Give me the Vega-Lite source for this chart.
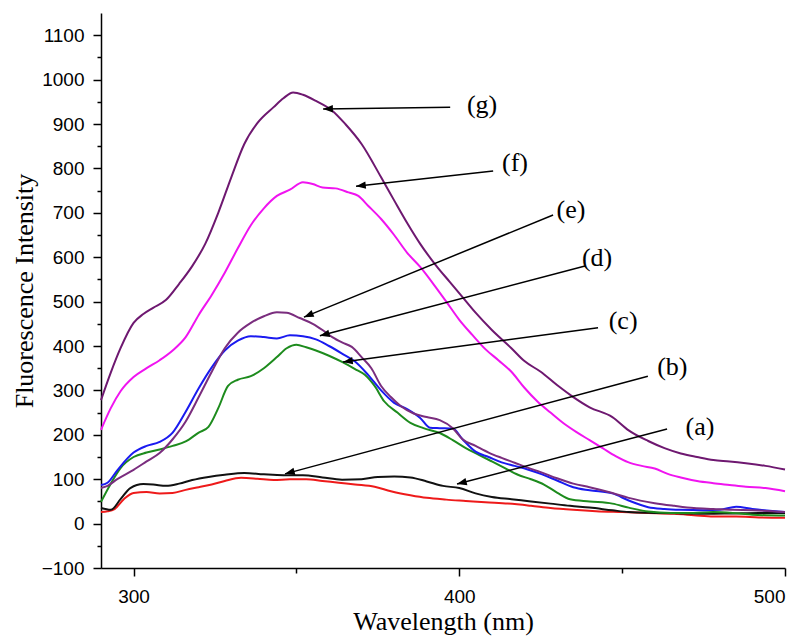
{
  "$schema": "https://vega.github.io/schema/vega-lite/v6.json",
  "width": 684,
  "height": 555,
  "autosize": "none",
  "padding": {"left": 101, "top": 13, "right": 21, "bottom": 68},
  "background": "white",
  "config": {
    "view": {"stroke": null},
    "axis": {
      "domainColor": "black", "domainWidth": 1.5,
      "tickColor": "black", "tickWidth": 1.5,
      "labelFont": "Liberation Sans", "labelFontSize": 19, "labelColor": "black",
      "titleFont": "Liberation Serif", "titleFontSize": 26, "titleFontWeight": "normal", "titleColor": "black",
      "grid": false
    }
  },
  "resolve": {"axis": {"x": "independent", "y": "independent"}},
  "datasets": {
    "spectra": [
      {"series":"a","wl":290,"v":26},{"series":"a","wl":292,"v":28},{"series":"a","wl":294,"v":32},{"series":"a","wl":297,"v":55},{"series":"a","wl":300,"v":69},{"series":"a","wl":304,"v":71},{"series":"a","wl":308,"v":68},{"series":"a","wl":312,"v":69},{"series":"a","wl":316,"v":76},{"series":"a","wl":320,"v":82},{"series":"a","wl":324,"v":88},{"series":"a","wl":328,"v":96},{"series":"a","wl":333,"v":103},{"series":"a","wl":338,"v":101},{"series":"a","wl":343,"v":98},{"series":"a","wl":348,"v":100},{"series":"a","wl":353,"v":100},{"series":"a","wl":358,"v":96},{"series":"a","wl":363,"v":92},{"series":"a","wl":368,"v":88},{"series":"a","wl":374,"v":83},{"series":"a","wl":379,"v":73},{"series":"a","wl":385,"v":64},{"series":"a","wl":390,"v":58},{"series":"a","wl":396,"v":54},{"series":"a","wl":402,"v":51},{"series":"a","wl":408,"v":48},{"series":"a","wl":415,"v":45},{"series":"a","wl":422,"v":40},{"series":"a","wl":428,"v":35},{"series":"a","wl":435,"v":31},{"series":"a","wl":442,"v":28},{"series":"a","wl":450,"v":26},{"series":"a","wl":458,"v":24},{"series":"a","wl":466,"v":22},{"series":"a","wl":472,"v":19},{"series":"a","wl":478,"v":16},{"series":"a","wl":485,"v":16},{"series":"a","wl":492,"v":14},{"series":"a","wl":500,"v":13},

      {"series":"b","wl":290,"v":35},{"series":"b","wl":293,"v":31},{"series":"b","wl":296,"v":55},{"series":"b","wl":299,"v":80},{"series":"b","wl":303,"v":89},{"series":"b","wl":306,"v":88},{"series":"b","wl":310,"v":85},{"series":"b","wl":314,"v":90},{"series":"b","wl":318,"v":98},{"series":"b","wl":323,"v":105},{"series":"b","wl":328,"v":110},{"series":"b","wl":334,"v":114},{"series":"b","wl":340,"v":111},{"series":"b","wl":346,"v":109},{"series":"b","wl":352,"v":109},{"series":"b","wl":358,"v":104},{"series":"b","wl":364,"v":99},{"series":"b","wl":370,"v":100},{"series":"b","wl":375,"v":105},{"series":"b","wl":380,"v":106},{"series":"b","wl":385,"v":104},{"series":"b","wl":390,"v":95},{"series":"b","wl":395,"v":85},{"series":"b","wl":400,"v":80},{"series":"b","wl":405,"v":68},{"series":"b","wl":410,"v":60},{"series":"b","wl":416,"v":55},{"series":"b","wl":422,"v":50},{"series":"b","wl":428,"v":45},{"series":"b","wl":434,"v":40},{"series":"b","wl":440,"v":36},{"series":"b","wl":447,"v":30},{"series":"b","wl":452,"v":26},{"series":"b","wl":460,"v":24},{"series":"b","wl":468,"v":23},{"series":"b","wl":476,"v":22},{"series":"b","wl":484,"v":23},{"series":"b","wl":492,"v":24},{"series":"b","wl":500,"v":24},

      {"series":"c","wl":290,"v":49},{"series":"c","wl":293,"v":90},{"series":"c","wl":296,"v":125},{"series":"c","wl":300,"v":150},{"series":"c","wl":304,"v":160},{"series":"c","wl":308,"v":167},{"series":"c","wl":312,"v":175},{"series":"c","wl":316,"v":185},{"series":"c","wl":320,"v":205},{"series":"c","wl":323,"v":218},{"series":"c","wl":326,"v":260},{"series":"c","wl":329,"v":310},{"series":"c","wl":332,"v":324},{"series":"c","wl":336,"v":332},{"series":"c","wl":340,"v":350},{"series":"c","wl":344,"v":375},{"series":"c","wl":347,"v":395},{"series":"c","wl":350,"v":403},{"series":"c","wl":353,"v":397},{"series":"c","wl":356,"v":390},{"series":"c","wl":360,"v":378},{"series":"c","wl":364,"v":364},{"series":"c","wl":368,"v":348},{"series":"c","wl":371,"v":335},{"series":"c","wl":374,"v":310},{"series":"c","wl":377,"v":275},{"series":"c","wl":381,"v":250},{"series":"c","wl":385,"v":227},{"series":"c","wl":389,"v":215},{"series":"c","wl":394,"v":204},{"series":"c","wl":398,"v":188},{"series":"c","wl":402,"v":170},{"series":"c","wl":406,"v":155},{"series":"c","wl":410,"v":140},{"series":"c","wl":414,"v":125},{"series":"c","wl":418,"v":110},{"series":"c","wl":422,"v":100},{"series":"c","wl":426,"v":88},{"series":"c","wl":430,"v":70},{"series":"c","wl":434,"v":55},{"series":"c","wl":440,"v":50},{"series":"c","wl":447,"v":45},{"series":"c","wl":452,"v":36},{"series":"c","wl":458,"v":27},{"series":"c","wl":465,"v":24},{"series":"c","wl":472,"v":24},{"series":"c","wl":478,"v":26},{"series":"c","wl":484,"v":24},{"series":"c","wl":490,"v":20},{"series":"c","wl":500,"v":18},

      {"series":"d","wl":290,"v":87},{"series":"d","wl":292,"v":92},{"series":"d","wl":295,"v":120},{"series":"d","wl":300,"v":160},{"series":"d","wl":304,"v":175},{"series":"d","wl":308,"v":184},{"series":"d","wl":312,"v":205},{"series":"d","wl":316,"v":252},{"series":"d","wl":320,"v":305},{"series":"d","wl":324,"v":352},{"series":"d","wl":328,"v":390},{"series":"d","wl":332,"v":412},{"series":"d","wl":336,"v":422},{"series":"d","wl":340,"v":420},{"series":"d","wl":344,"v":417},{"series":"d","wl":348,"v":424},{"series":"d","wl":352,"v":422},{"series":"d","wl":356,"v":415},{"series":"d","wl":360,"v":400},{"series":"d","wl":364,"v":383},{"series":"d","wl":368,"v":365},{"series":"d","wl":372,"v":335},{"series":"d","wl":376,"v":300},{"series":"d","wl":380,"v":272},{"series":"d","wl":384,"v":258},{"series":"d","wl":388,"v":238},{"series":"d","wl":391,"v":216},{"series":"d","wl":394,"v":215},{"series":"d","wl":398,"v":214},{"series":"d","wl":401,"v":190},{"series":"d","wl":405,"v":162},{"series":"d","wl":409,"v":150},{"series":"d","wl":413,"v":138},{"series":"d","wl":417,"v":130},{"series":"d","wl":421,"v":122},{"series":"d","wl":425,"v":112},{"series":"d","wl":430,"v":97},{"series":"d","wl":435,"v":82},{"series":"d","wl":440,"v":75},{"series":"d","wl":447,"v":68},{"series":"d","wl":452,"v":52},{"series":"d","wl":458,"v":37},{"series":"d","wl":463,"v":33},{"series":"d","wl":468,"v":31},{"series":"d","wl":475,"v":30},{"series":"d","wl":480,"v":31},{"series":"d","wl":485,"v":38},{"series":"d","wl":490,"v":33},{"series":"d","wl":500,"v":26},

      {"series":"e","wl":290,"v":80},{"series":"e","wl":292,"v":85},{"series":"e","wl":295,"v":100},{"series":"e","wl":300,"v":121},{"series":"e","wl":304,"v":140},{"series":"e","wl":308,"v":159},{"series":"e","wl":312,"v":190},{"series":"e","wl":316,"v":230},{"series":"e","wl":320,"v":285},{"series":"e","wl":324,"v":342},{"series":"e","wl":328,"v":395},{"series":"e","wl":332,"v":430},{"series":"e","wl":336,"v":452},{"series":"e","wl":340,"v":467},{"series":"e","wl":344,"v":476},{"series":"e","wl":347,"v":475},{"series":"e","wl":351,"v":463},{"series":"e","wl":355,"v":450},{"series":"e","wl":358,"v":436},{"series":"e","wl":361,"v":420},{"series":"e","wl":364,"v":408},{"series":"e","wl":367,"v":398},{"series":"e","wl":370,"v":375},{"series":"e","wl":373,"v":350},{"series":"e","wl":376,"v":310},{"series":"e","wl":379,"v":285},{"series":"e","wl":382,"v":265},{"series":"e","wl":386,"v":248},{"series":"e","wl":390,"v":240},{"series":"e","wl":394,"v":233},{"series":"e","wl":398,"v":215},{"series":"e","wl":401,"v":190},{"series":"e","wl":405,"v":175},{"series":"e","wl":409,"v":160},{"series":"e","wl":413,"v":148},{"series":"e","wl":417,"v":137},{"series":"e","wl":421,"v":126},{"series":"e","wl":425,"v":116},{"series":"e","wl":430,"v":102},{"series":"e","wl":435,"v":90},{"series":"e","wl":440,"v":82},{"series":"e","wl":447,"v":69},{"series":"e","wl":452,"v":58},{"series":"e","wl":460,"v":46},{"series":"e","wl":466,"v":40},{"series":"e","wl":472,"v":35},{"series":"e","wl":478,"v":33},{"series":"e","wl":484,"v":31},{"series":"e","wl":490,"v":30},{"series":"e","wl":500,"v":26},

      {"series":"f","wl":290,"v":211},{"series":"f","wl":293,"v":260},{"series":"f","wl":296,"v":298},{"series":"f","wl":300,"v":330},{"series":"f","wl":304,"v":350},{"series":"f","wl":308,"v":368},{"series":"f","wl":312,"v":390},{"series":"f","wl":316,"v":420},{"series":"f","wl":320,"v":470},{"series":"f","wl":324,"v":515},{"series":"f","wl":328,"v":565},{"series":"f","wl":332,"v":620},{"series":"f","wl":336,"v":672},{"series":"f","wl":340,"v":710},{"series":"f","wl":344,"v":738},{"series":"f","wl":348,"v":752},{"series":"f","wl":352,"v":769},{"series":"f","wl":355,"v":765},{"series":"f","wl":358,"v":757},{"series":"f","wl":362,"v":755},{"series":"f","wl":366,"v":746},{"series":"f","wl":369,"v":738},{"series":"f","wl":372,"v":716},{"series":"f","wl":376,"v":686},{"series":"f","wl":380,"v":650},{"series":"f","wl":384,"v":610},{"series":"f","wl":388,"v":578},{"series":"f","wl":392,"v":540},{"series":"f","wl":396,"v":500},{"series":"f","wl":400,"v":459},{"series":"f","wl":404,"v":425},{"series":"f","wl":408,"v":393},{"series":"f","wl":412,"v":368},{"series":"f","wl":416,"v":342},{"series":"f","wl":420,"v":306},{"series":"f","wl":424,"v":275},{"series":"f","wl":428,"v":250},{"series":"f","wl":432,"v":226},{"series":"f","wl":436,"v":206},{"series":"f","wl":440,"v":188},{"series":"f","wl":444,"v":170},{"series":"f","wl":448,"v":152},{"series":"f","wl":452,"v":138},{"series":"f","wl":456,"v":130},{"series":"f","wl":460,"v":124},{"series":"f","wl":464,"v":112},{"series":"f","wl":468,"v":104},{"series":"f","wl":473,"v":96},{"series":"f","wl":478,"v":91},{"series":"f","wl":483,"v":87},{"series":"f","wl":488,"v":83},{"series":"f","wl":494,"v":80},{"series":"f","wl":500,"v":73},

      {"series":"g","wl":290,"v":278},{"series":"g","wl":293,"v":340},{"series":"g","wl":296,"v":395},{"series":"g","wl":300,"v":452},{"series":"g","wl":303,"v":472},{"series":"g","wl":306,"v":486},{"series":"g","wl":310,"v":504},{"series":"g","wl":314,"v":540},{"series":"g","wl":318,"v":580},{"series":"g","wl":322,"v":630},{"series":"g","wl":326,"v":700},{"series":"g","wl":330,"v":780},{"series":"g","wl":334,"v":855},{"series":"g","wl":338,"v":902},{"series":"g","wl":343,"v":938},{"series":"g","wl":346,"v":958},{"series":"g","wl":349,"v":971},{"series":"g","wl":352,"v":966},{"series":"g","wl":356,"v":952},{"series":"g","wl":361,"v":930},{"series":"g","wl":365,"v":900},{"series":"g","wl":370,"v":855},{"series":"g","wl":376,"v":780},{"series":"g","wl":380,"v":728},{"series":"g","wl":384,"v":677},{"series":"g","wl":388,"v":630},{"series":"g","wl":393,"v":580},{"series":"g","wl":397,"v":545},{"series":"g","wl":401,"v":510},{"series":"g","wl":405,"v":475},{"series":"g","wl":410,"v":436},{"series":"g","wl":416,"v":395},{"series":"g","wl":420,"v":366},{"series":"g","wl":425,"v":342},{"series":"g","wl":430,"v":312},{"series":"g","wl":435,"v":285},{"series":"g","wl":440,"v":262},{"series":"g","wl":447,"v":240},{"series":"g","wl":452,"v":210},{"series":"g","wl":458,"v":186},{"series":"g","wl":463,"v":170},{"series":"g","wl":468,"v":158},{"series":"g","wl":473,"v":150},{"series":"g","wl":478,"v":143},{"series":"g","wl":483,"v":140},{"series":"g","wl":488,"v":136},{"series":"g","wl":494,"v":130},{"series":"g","wl":500,"v":122}
    ],
    "notes": [
      {"label":"(g)","x1":397.2,"y1":938,"x2":358.2,"y2":934,"lx":407.0,"ly":943},
      {"label":"(f)","x1":410.4,"y1":794,"x2":368.3,"y2":760,"lx":417.1,"ly":812},
      {"label":"(e)","x1":428.8,"y1":695,"x2":352.3,"y2":465,"lx":434.3,"ly":706},
      {"label":"(d)","x1":438.6,"y1":580,"x2":357.2,"y2":423,"lx":442.3,"ly":598},
      {"label":"(c)","x1":442.6,"y1":441,"x2":364.3,"y2":364,"lx":450.3,"ly":456},
      {"label":"(b)","x1":457.9,"y1":332,"x2":346.5,"y2":112,"lx":465.4,"ly":353},
      {"label":"(a)","x1":463.8,"y1":213,"x2":399.3,"y2":89,"lx":473.9,"ly":218}
    ]
  },
  "layer": [
    {
      "data": {"name": "spectra"},
      "mark": {"type": "line", "interpolate": "monotone", "strokeWidth": 2},
      "encoding": {
        "x": {"field": "wl", "type": "quantitative",
          "scale": {"domain": [290, 500], "nice": false, "zero": false},
          "axis": {"title": "Wavelength (nm)", "orient": "bottom", "values": [300, 400, 500], "format": "d",
            "tickSize": 8, "labelPadding": 11, "titlePadding": 2}},
        "y": {"field": "v", "type": "quantitative",
          "scale": {"domain": [-100, 1150], "nice": false, "zero": false},
          "axis": {"title": "Fluorescence Intensity", "orient": "left", "format": "d",
            "values": [-100,0,100,200,300,400,500,600,700,800,900,1000,1100],
            "tickSize": 8, "labelPadding": 9, "titlePadding": 4}},
        "color": {"field": "series", "type": "nominal", "legend": null,
          "scale": {"domain": ["a","b","c","d","e","f","g"],
            "range": ["#ee1a1a", "#111111", "#1d8b1d", "#1a1af0", "#7a2d7e", "#f014f0", "#6e1870"]}}
      }
    },
    {
      "data": {"name": "notes"},
      "mark": {"type": "rule", "color": "black", "strokeWidth": 1.5},
      "encoding": {
        "x": {"field": "x1", "type": "quantitative",
          "axis": {"orient": "bottom", "values": [350, 450], "tickSize": 5, "labels": false, "domain": false, "title": null}},
        "y": {"field": "y1", "type": "quantitative",
          "axis": {"orient": "left", "values": [-50,50,150,250,350,450,550,650,750,850,950,1050], "tickSize": 4, "labels": false, "domain": false, "title": null}},
        "x2": {"field": "x2"},
        "y2": {"field": "y2"}
      }
    },
    {
      "data": {"name": "notes"},
      "transform": [{"calculate": "atan2(-(datum.y2 - datum.y1) * 555 / 1250, (datum.x2 - datum.x1) * 684 / 210) * 180 / PI", "as": "ang"}],
      "mark": {"type": "point", "shape": "M0,0L-1,-0.38L-1,0.38Z", "filled": true, "color": "black", "opacity": 1, "size": 380},
      "encoding": {
        "x": {"field": "x2", "type": "quantitative", "axis": null},
        "y": {"field": "y2", "type": "quantitative", "axis": null},
        "angle": {"field": "ang", "type": "quantitative", "scale": null}
      }
    },
    {
      "data": {"name": "notes"},
      "mark": {"type": "text", "font": "Liberation Serif", "fontSize": 26, "color": "black", "align": "center", "baseline": "middle"},
      "encoding": {
        "x": {"field": "lx", "type": "quantitative", "axis": null},
        "y": {"field": "ly", "type": "quantitative", "axis": null},
        "text": {"field": "label"}
      }
    }
  ]
}
